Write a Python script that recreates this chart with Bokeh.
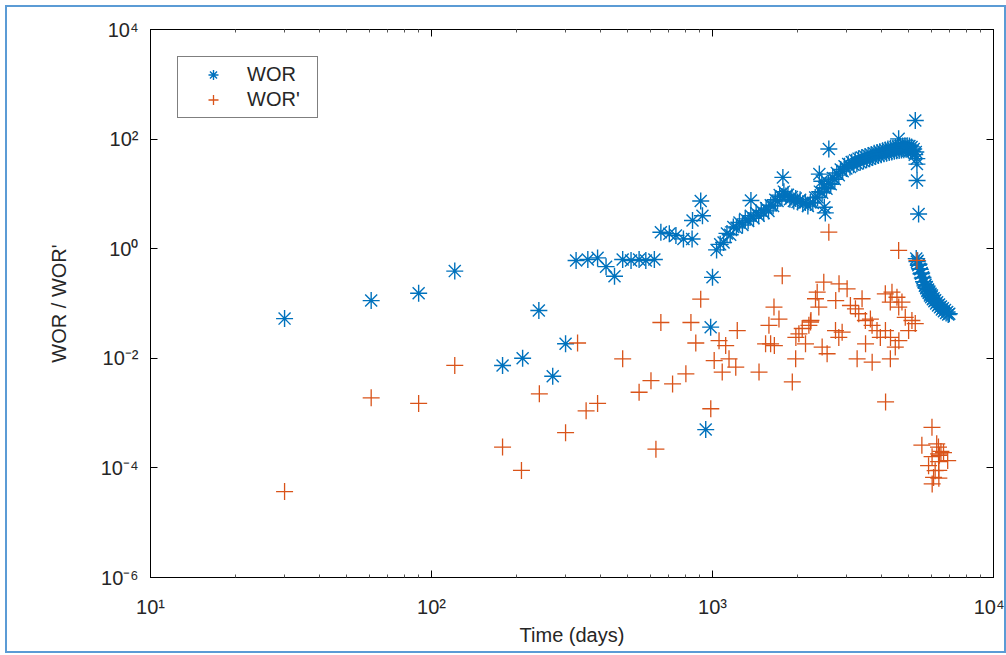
from bokeh.plotting import figure
from bokeh.models import ColumnDataSource, FixedTicker, LogAxis
from bokeh.embed import file_html
from bokeh.resources import INLINE

# ---------------- data ----------------
wor_days_sparse = [30, 61, 90, 121, 179, 211, 241, 270, 300, 327, 360, 390, 418, 448, 479, 513, 548,
                   579, 621, 655, 702, 741, 788, 846, 849, 908, 921, 946, 985, 1000, 1370, 1780,
                   2400, 2450, 2500, 2520, 2594, 4597, 5268, 5340, 5345, 5413]
wor_sparse = [0.053, 0.113, 0.154, 0.39, 0.0074, 0.010, 0.0745, 0.0047, 0.0184, 0.61, 0.635, 0.68,
              0.47, 0.315, 0.635, 0.61, 0.635, 0.61, 0.635, 2.0, 1.87, 1.74, 1.51, 1.5, 3.27, 7.4,
              4.0, 0.0005, 0.037, 0.30, 7.6, 20, 23, 17, 5.7, 4.5, 66, 101, 219, 35, 17.6, 4.3]

wor_days_trend = [1034, 1065, 1095, 1126, 1156, 1186, 1217, 1247, 1278, 1308, 1339, 1369, 1399, 1430,
                  1460, 1491, 1521, 1552, 1582, 1612, 1643, 1673, 1704, 1734, 1765, 1795, 1825, 1856,
                  1886, 1917, 1947, 1978, 2008,
                  2050, 2095, 2140, 2185, 2230, 2275, 2320, 2365, 2410, 2455, 2500, 2545, 2590, 2635,
                  2680, 2725, 2770, 2815, 2860, 2905, 2950, 2995, 3040, 3085, 3130, 3175, 3220, 3265,
                  3310, 3355, 3400, 3445, 3490, 3535, 3580, 3625, 3670, 3715, 3760, 3805, 3850, 3895,
                  3940, 3985, 4030, 4075, 4120, 4165, 4210, 4255, 4300, 4345, 4390, 4435, 4480, 4525,
                  4570, 4615, 4660, 4705, 4750, 4795, 4840, 4885, 4930, 4975, 5020, 5065, 5110, 5155,
                  5200, 5245, 5290, 5335]
wor_trend = [0.95, 1.2, 1.3, 1.9, 1.8, 2.5, 2.4, 3.0, 2.7, 3.5, 3.2, 4.0, 3.6, 4.5, 4.0, 5.0, 4.5,
             5.5, 4.9, 6.2, 6.0, 7.8, 7.4, 9.5, 9.0, 11.0, 9.2, 9.6, 8.0, 8.8, 7.4, 8.2, 7.1,
             7.8, 6.6, 7.0, 6.0, 7.0, 6.8, 8.6, 8.6, 11.0, 10.5, 13.0, 12.4, 15.5, 15.0, 19.5, 18.5,
             24, 22, 28, 26, 32, 29, 35, 31, 38, 34, 41, 36, 44, 38, 46, 40, 48, 42, 50, 44, 52, 46,
             55, 48, 57, 50, 59, 52, 61, 54, 63, 55, 66, 57, 68, 58, 69, 60, 71, 61, 73, 62, 74, 63,
             75, 64, 76, 65, 76, 64, 75, 62, 72, 60, 66, 52, 58, 44]

wor_days_tail = [5310, 5340, 5370, 5400, 5430, 5460, 5490, 5520, 5550, 5580, 5610, 5640, 5670, 5700,
                 5730, 5760, 5790, 5820, 5850, 5880, 5910, 5940, 5970, 6000, 6040, 6080, 6120, 6160,
                 6200, 6250, 6300, 6350, 6400, 6450, 6500, 6550, 6600, 6660, 6720, 6780, 6840, 6900, 6960]
wor_tail = [0.66, 0.58, 0.60, 0.50, 0.52, 0.43, 0.42, 0.35, 0.36, 0.29, 0.30, 0.25, 0.25, 0.21, 0.22,
            0.19, 0.20, 0.17, 0.18, 0.155, 0.165, 0.14, 0.15, 0.13, 0.14, 0.12, 0.125, 0.11, 0.115,
            0.10, 0.105, 0.092, 0.096, 0.085, 0.088, 0.078, 0.082, 0.072, 0.076, 0.067, 0.070, 0.063, 0.065]

worp_days = [30, 61, 90, 121, 179, 209, 242, 300, 331, 355, 390, 479, 548, 604, 629, 655, 721, 804,
             838, 872, 908, 986, 1014, 1055, 1083, 1114, 1145, 1210, 1225, 1464, 1545, 1588, 1610,
             1655, 1660, 1724, 1771, 1923, 1977, 1980, 2030, 2086, 2143, 2203, 2233, 2240, 2326,
             2358, 2390, 2456, 2489, 2558, 2594, 2740, 2745, 2815, 2820, 2893, 3013, 3096, 3226,
             3271, 3315, 3406, 3500, 3505, 3647, 3697, 3700, 3850, 3956, 4121, 4125, 4130, 4293,
             4295, 4300, 4352, 4472, 4534, 4597, 4600, 4605, 4723, 4853, 4988, 5125, 5267, 5340,
             5560, 5874, 6040, 6045, 6050, 6120, 6200, 6280, 6370, 6375, 6380, 6385, 6390, 6420,
             6500, 6640, 6870]
worp = [3.7e-5, 1.9e-3, 1.5e-3, 0.0074, 2.4e-4, 9e-5, 2.25e-3, 4.4e-4, 0.019, 1.1e-3, 1.5e-3,
        0.0098, 2.4e-3, 3.9e-3, 2.2e-4, 0.045, 3.4e-3, 5.2e-3, 0.045, 0.019, 0.12, 0.0012, 0.0091,
        0.021, 0.0056, 0.0171, 0.0098, 0.0069, 0.032, 0.0056, 0.0184, 0.040, 0.0184, 0.086, 0.0171,
        0.052, 0.32, 0.0037, 0.0098, 0.024, 0.028, 0.035, 0.0184, 0.040, 0.046, 0.049, 0.122, 0.161,
        0.086, 0.016, 0.245, 0.0121, 2.0, 0.032, 0.113, 0.024, 0.229, 0.030, 0.185, 0.092, 0.080,
        0.0098, 0.065, 0.122, 0.049, 0.0184, 0.052, 0.040, 0.0085, 0.032, 0.024, 0.150, 0.032,
        0.0016, 0.106, 0.0098, 0.024, 0.161, 0.016, 0.130, 0.93, 0.086, 0.021, 0.106, 0.056, 0.032,
        0.049, 0.043, 0.61, 2.6e-4, 1.1e-4, 5.5e-4, 1.6e-4, 5.1e-5, 6.7e-5, 8.9e-5, 2.75e-4,
        2.4e-4, 1.8e-4, 1.3e-4, 9e-5, 6.5e-5, 1.7e-4, 2.0e-4, 1.9e-4, 1.36e-4]

x_ticks = [10, 100, 1000, 10000]
x_tick_labels = ["10¹", "10²", "10³", "10⁴"]
y_ticks = [1e-6, 1e-4, 1e-2, 1, 1e2, 1e4]
y_tick_labels = ["10⁻⁶", "10⁻⁴", "10⁻²", "10⁰", "10²", "10⁴"]
x_minor = [m * d for d in (10, 100, 1000) for m in range(2, 10)]

# ---------------- styling ----------------
BLUE = "#0072BD"
ORANGE = "#D95319"
FONT = "Liberation Sans"
TXT = "#262626"
FS = "20px"

wor_src = ColumnDataSource(dict(x=wor_days_sparse + wor_days_trend + wor_days_tail,
                                y=wor_sparse + wor_trend + wor_tail))
worp_src = ColumnDataSource(dict(x=worp_days, y=worp))

p = figure(x_axis_type="log", y_axis_type="log", x_range=(10, 10000), y_range=(1e-6, 1e4),
           frame_width=843, frame_height=548, output_backend="svg", toolbar_location=None,
           min_border_left=143, min_border_right=11, min_border_top=22, min_border_bottom=74,
           background_fill_color="white", border_fill_color="white")
p.styles = {"border": "2px solid #5B9BD5", "margin": "5px"}
p.grid.visible = False
p.outline_line_color = "black"
p.outline_line_width = 1

p.scatter("x", "y", source=wor_src, marker="asterisk", size=17, line_color=BLUE,
          line_width=1.4, legend_label="WOR")
p.scatter("x", "y", source=worp_src, marker="cross", size=17, line_color=ORANGE,
          line_width=1.3, legend_label="WOR'")


def style_axis(ax):
    ax.axis_line_color = "black"
    ax.axis_line_width = 1
    ax.major_tick_in = 7
    ax.major_tick_out = 0
    ax.minor_tick_in = 3
    ax.minor_tick_out = 0
    ax.major_tick_line_color = "black"
    ax.minor_tick_line_color = "#555555"
    ax.major_label_text_font = FONT
    ax.major_label_text_font_size = FS
    ax.major_label_text_color = TXT
    ax.axis_label_text_font = FONT
    ax.axis_label_text_font_size = FS
    ax.axis_label_text_font_style = "normal"
    ax.axis_label_text_color = TXT


xa = p.xaxis[0]
xa.ticker = FixedTicker(ticks=x_ticks, minor_ticks=x_minor)
xa.major_label_overrides = {float(t): s for t, s in zip(x_ticks, x_tick_labels)}
style_axis(xa)
xa.major_label_standoff = 18
xa.axis_label = "Time (days)"
xa.axis_label_standoff = 3

ya = p.yaxis[0]
ya.ticker = FixedTicker(ticks=y_ticks, minor_ticks=[])
ya.major_label_overrides = {float(t): s for t, s in zip(y_ticks, y_tick_labels)}
style_axis(ya)
ya.major_label_standoff = 12
ya.axis_label = "WOR / WOR'"
ya.axis_label_standoff = 28

# mirrored tick marks on the top and right edges (box on), no labels
top = LogAxis(ticker=FixedTicker(ticks=x_ticks, minor_ticks=x_minor))
style_axis(top)
top.major_label_overrides = {float(t): "" for t in x_ticks}
top.major_label_standoff = 0
p.add_layout(top, "above")

right = LogAxis(ticker=FixedTicker(ticks=y_ticks, minor_ticks=[]))
style_axis(right)
right.major_label_overrides = {float(t): "" for t in y_ticks}
right.major_label_standoff = 0
p.add_layout(right, "right")

lg = p.legend[0]
lg.location = "top_left"
lg.margin = 27
lg.border_line_color = "black"
lg.border_line_width = 1
lg.background_fill_color = "white"
lg.background_fill_alpha = 1
lg.label_text_font = FONT
lg.label_text_font_size = FS
lg.label_text_color = TXT
lg.padding = 5
lg.spacing = 0
lg.glyph_width = 60
lg.glyph_height = 25
lg.label_height = 25
lg.label_width = 65
lg.label_standoff = 4

open("out.html", "w").write(file_html(p, INLINE))
